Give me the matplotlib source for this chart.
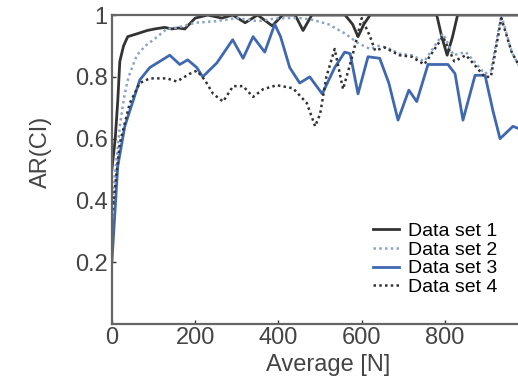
import matplotlib.pyplot as plt

plt.rcParams['font.family'] = ['Liberation Sans', 'DejaVu Sans']

# Data set 1 (black solid)
x1 = [0, 8, 14, 19, 28, 38, 62, 85, 103, 127, 143, 160, 175, 200, 230, 264, 290, 320,
      350, 385, 410, 440, 459, 480, 520, 560, 578, 591, 605, 620, 700, 780, 792, 805,
      818, 830, 900, 1000]
y1 = [0.50, 0.60, 0.72, 0.85, 0.90, 0.93, 0.94, 0.95, 0.955, 0.96, 0.955, 0.958, 0.955,
      0.99, 1.0, 0.99, 1.0, 0.975, 1.0, 0.965, 1.0, 1.0, 0.95, 1.0, 1.0, 1.0, 0.97,
      0.93, 0.97, 1.0, 1.0, 1.0, 0.93, 0.87, 0.93, 1.0, 1.0, 1.0]

# Data set 2 (blue dotted)
x2 = [0, 10, 20, 30, 40, 60, 80, 100, 132, 160, 200, 250, 300, 350, 400, 450, 480, 520,
      560, 590, 620, 640, 660, 690, 720, 750, 780, 795, 820, 850, 870, 895, 910, 935,
      960, 1000]
y2 = [0.40, 0.52, 0.65, 0.74, 0.80, 0.87, 0.90, 0.92, 0.955, 0.96, 0.975, 0.98, 0.99,
      0.98, 0.99, 0.99, 0.985, 0.97, 0.94, 0.91, 0.89, 0.90, 0.895, 0.875, 0.87, 0.85,
      0.91, 0.94, 0.87, 0.88, 0.85, 0.81, 0.82, 1.0, 0.88, 0.78]

# Data set 3 (blue solid)
x3 = [0, 14, 31, 55, 67, 91, 115, 139, 163, 182, 204, 218, 252, 290, 315, 339, 367,
      391, 405, 427, 451, 475, 505, 535, 559, 572, 591, 615, 643, 665, 687, 713, 732,
      759, 807, 824, 843, 872, 896, 915, 932, 963, 1000]
y3 = [0.20, 0.51, 0.64, 0.74, 0.79, 0.83, 0.85, 0.87, 0.84, 0.855, 0.83, 0.80, 0.845,
      0.92, 0.86, 0.93, 0.88, 0.97, 0.93, 0.83, 0.78, 0.80, 0.745, 0.83, 0.88, 0.875,
      0.745, 0.865, 0.86, 0.78, 0.66, 0.757, 0.72, 0.84, 0.84, 0.81, 0.66, 0.805, 0.805,
      0.69, 0.60, 0.64, 0.62]

# Data set 4 (black dotted)
x4 = [0, 19, 43, 67, 91, 132, 156, 187, 204, 223, 243, 267, 291, 315, 339, 363, 396,
      435, 468, 488, 500, 515, 535, 555, 576, 600, 620, 632, 655, 690, 720, 750, 780,
      795, 822, 850, 870, 895, 910, 935, 960, 1000]
y4 = [0.35, 0.585, 0.715, 0.78, 0.795, 0.795, 0.785, 0.81, 0.82, 0.79, 0.745, 0.72,
      0.77, 0.77, 0.735, 0.76, 0.773, 0.763, 0.715, 0.64, 0.68, 0.80, 0.89, 0.76, 0.86,
      0.99, 0.93, 0.885, 0.895, 0.87, 0.865, 0.84, 0.90, 0.93, 0.85, 0.87, 0.84, 0.80,
      0.80, 0.99, 0.88, 0.78]

fig = plt.figure(figsize=(5.18, 3.85), dpi=100)
ax = fig.add_axes([0.216, 0.158, 0.804, 0.803])

ax.plot(x1, y1, color='#333333', lw=2.0, label='Data set 1')
ax.plot(x2, y2, color='#8fa3c8', lw=1.8, ls=(0, (1, 1.3)), label='Data set 2')
ax.plot(x3, y3, color='#4068b0', lw=2.0, label='Data set 3')
ax.plot(x4, y4, color='#333333', lw=1.8, ls=(0, (1, 1.3)), label='Data set 4')

ax.set_xlim(0, 1000)
ax.set_ylim(0, 1)
ax.set_xticks([0, 200, 400, 600, 800])
ax.set_yticks([0.2, 0.4, 0.6, 0.8, 1.0])
ax.set_yticklabels(['0.2', '0.4', '0.6', '0.8', '1'])
ax.tick_params(direction='in', length=3, width=1, labelsize=17, colors='#333333', pad=3)
ax.tick_params(axis='y', labelcolor='#444444')
ax.tick_params(axis='x', labelcolor='#444444', pad=2)
for s in ax.spines.values():
    s.set_color('#666666')
    s.set_linewidth(1.6)

ax.set_xlabel('Average [N]', fontsize=17, color='#444444')
ax.set_ylabel('AR(CI)', fontsize=17, color='#444444')
ax.xaxis.set_label_coords(0.519, -0.098)
ax.yaxis.set_label_coords(-0.144, 0.557)

ax.legend(loc='lower right', bbox_to_anchor=(0.95, 0.06), frameon=False, fontsize=14,
          handlelength=1.3, handletextpad=0.5, labelspacing=0.05, borderpad=0)

fig.savefig('out.png', dpi=100)
